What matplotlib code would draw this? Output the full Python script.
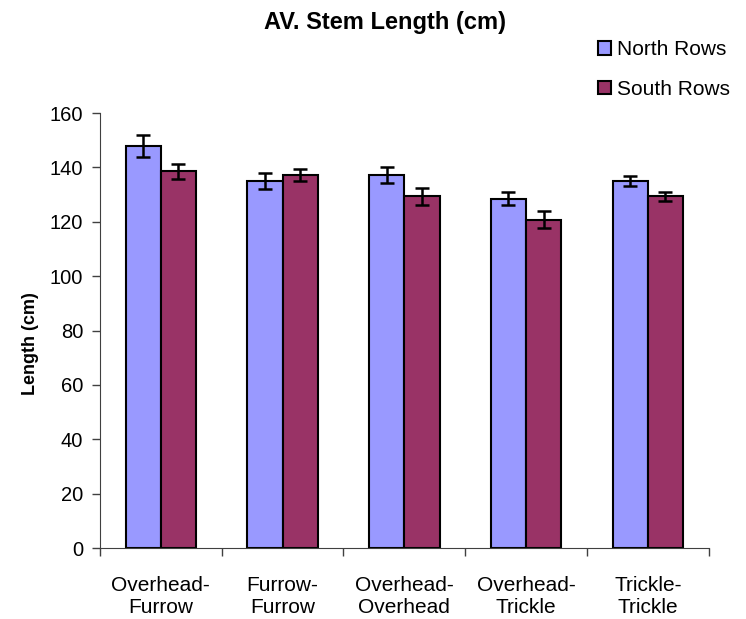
import numpy as np
import matplotlib.pyplot as plt

plt.rcParams['font.family'] = ['Liberation Sans', 'DejaVu Sans']

# data
categories = ["Overhead-\nFurrow", "Furrow-\nFurrow", "Overhead-\nOverhead",
              "Overhead-\nTrickle", "Trickle-\nTrickle"]
north = [147.8, 135.0, 137.1, 128.4, 135.0]
north_err = [4.0, 3.1, 3.0, 2.4, 1.7]
south = [138.5, 137.2, 129.3, 120.8, 129.4]
south_err = [2.6, 2.2, 3.0, 3.0, 1.6]

fig = plt.figure(figsize=(7.46, 6.19), dpi=100)
ax = fig.add_axes([0.134, 0.1147, 0.816, 0.7027])

x = np.arange(len(categories))
w = 0.29
err_kw = dict(ecolor='black', elinewidth=1.8, capsize=5, capthick=1.8)
ax.bar(x - w / 2, north, w, yerr=north_err, color='#9999FF',
       edgecolor='black', linewidth=1.5, label='North Rows', error_kw=err_kw)
ax.bar(x + w / 2, south, w, yerr=south_err, color='#993366',
       edgecolor='black', linewidth=1.5, label='South Rows', error_kw=err_kw)

ax.set_xlim(-0.5, len(categories) - 0.5)
ax.set_ylim(0, 160)
ax.set_yticks(range(0, 161, 20))
ax.tick_params(axis='y', labelsize=14.5, length=6, width=1, color='#404040', pad=6)
ax.set_xticks(x)
ax.set_xticklabels(categories, fontsize=15, linespacing=1.2)
ax.tick_params(axis='x', length=0, pad=20)
# category boundary ticks
ax.set_xticks(np.arange(-0.5, len(categories), 1.0), minor=True)
ax.tick_params(axis='x', which='minor', length=6, width=1, color='#404040')

for s in ['top', 'right']:
    ax.spines[s].set_visible(False)
for s in ['left', 'bottom']:
    ax.spines[s].set_color('#404040')

ax.set_ylabel('Length (cm)', fontsize=13, fontweight='bold')
ax.yaxis.set_label_coords(-0.10, 0.47)
fig.text(0.516, 0.963, 'AV. Stem Length (cm)', fontsize=17, fontweight='bold',
         ha='center', va='center')

fig.legend(loc='upper left', bbox_to_anchor=(0.802, 0.935), frameon=False,
           fontsize=15, handlelength=0.6, handleheight=0.6, handletextpad=0.3,
           labelspacing=1.0, borderaxespad=0, borderpad=0)

fig.savefig('out.png', dpi=100)
